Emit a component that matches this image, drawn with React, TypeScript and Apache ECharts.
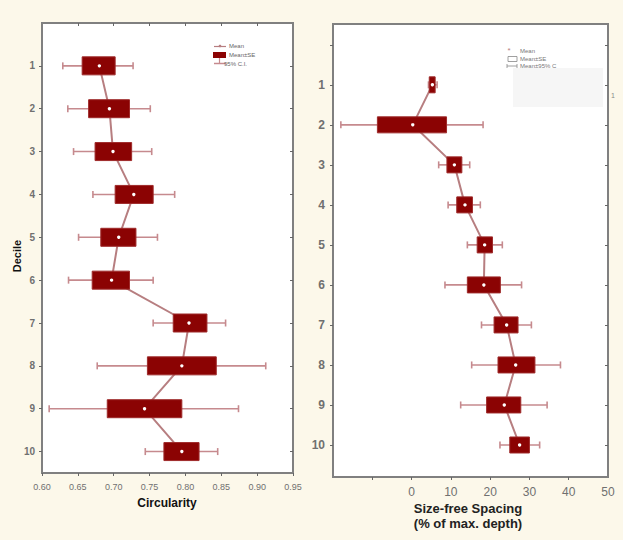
import React, { useEffect, useRef } from 'react';
import * as echarts from 'echarts';

// ---------- data ----------
const deciles = [1, 2, 3, 4, 5, 6, 7, 8, 9, 10];

// Circularity (left panel)
const circMean = [0.680, 0.694, 0.699, 0.728, 0.707, 0.697, 0.805, 0.795, 0.743, 0.795];
const circSeLow = [0.656, 0.665, 0.674, 0.702, 0.682, 0.670, 0.783, 0.747, 0.691, 0.770];
const circSeHigh = [0.702, 0.722, 0.725, 0.755, 0.731, 0.722, 0.830, 0.843, 0.795, 0.819];
const circCiLow = [0.629, 0.636, 0.644, 0.671, 0.651, 0.637, 0.755, 0.677, 0.610, 0.744];
const circCiHigh = [0.727, 0.751, 0.753, 0.785, 0.761, 0.755, 0.856, 0.912, 0.874, 0.845];
const circTicks = [0.60, 0.65, 0.70, 0.75, 0.80, 0.85, 0.90, 0.95];

// Size-free spacing (right panel)
const spMean = [5.3, 0.3, 10.9, 13.6, 18.6, 18.4, 24.2, 26.5, 23.6, 27.5];
const spSeLow = [4.5, -8.7, 9.0, 11.5, 16.7, 14.2, 21.0, 22.0, 19.1, 25.0];
const spSeHigh = [6.0, 8.9, 12.8, 15.5, 20.6, 22.6, 27.1, 31.4, 27.8, 30.0];
const spCiLow = [4.3, -18.0, 6.9, 9.3, 14.2, 8.5, 17.8, 15.3, 12.5, 22.5];
const spCiHigh = [6.5, 18.2, 14.8, 17.5, 23.1, 28.0, 30.5, 37.9, 34.5, 32.6];
const spLabelTicks = [0, 10, 20, 30, 40, 50];
const spMinorTicks = [-10, 0, 10, 20, 30, 40];
const spYTicks = [0, 1, 2, 3, 4, 5, 6, 7, 8, 9, 10];

// ---------- styles ----------
const BOX_FILL = '#8B0303';
const BOX_STROKE = '#9E2A2A';
const WHISKER = '#C68A8E';
const MEANLINE = '#B77E80';
const FRAME = '#808080';
const LABEL = '#707070';
const FONT = 'Liberation Sans, Arial, sans-serif';

function buildRows(mean: number[], seL: number[], seH: number[], ciL: number[], ciH: number[]) {
  return deciles.map((d, i) => [d, mean[i], seL[i], seH[i], ciL[i], ciH[i]]);
}

function makeRender(boxH: number) {
  return (params: any, api: any) => {
    const cat = api.value(0);
    const pM = api.coord([api.value(1), cat]);
    const pSL = api.coord([api.value(2), cat]);
    const pSH = api.coord([api.value(3), cat]);
    const pCL = api.coord([api.value(4), cat]);
    const pCH = api.coord([api.value(5), cat]);
    const y = pM[1];
    const cap = 3.5;
    return {
      type: 'group',
      children: [
        { type: 'line', shape: { x1: pCL[0], y1: y, x2: pCH[0], y2: y }, style: { stroke: WHISKER, lineWidth: 1.6 } },
        { type: 'line', shape: { x1: pCL[0], y1: y - cap, x2: pCL[0], y2: y + cap }, style: { stroke: WHISKER, lineWidth: 1.6 } },
        { type: 'line', shape: { x1: pCH[0], y1: y - cap, x2: pCH[0], y2: y + cap }, style: { stroke: WHISKER, lineWidth: 1.6 } },
        {
          type: 'rect',
          shape: { x: pSL[0], y: y - boxH / 2, width: pSH[0] - pSL[0], height: boxH },
          style: { fill: BOX_FILL, stroke: BOX_STROKE, lineWidth: 1 },
        },
        { type: 'circle', shape: { cx: pM[0], cy: y, r: 1.7 }, style: { fill: '#ffffff' } },
      ],
    };
  };
}

export default function App() {
  const ref = useRef<HTMLDivElement>(null);

  useEffect(() => {
    if (!ref.current) return;
    const chart = echarts.init(ref.current, null, { renderer: 'svg' });

    const leftGrid = { left: 42, top: 23, width: 251, height: 450 };
    const rightGrid = { left: 333, top: 24, width: 275, height: 453 };

    const noLine = { show: false, onZero: false };
    const tickStyle = { color: '#666' };

    const option: any = {
      animation: false,
      backgroundColor: '#FCF8EA',
      grid: [
        { ...leftGrid, show: true, backgroundColor: '#ffffff', borderColor: FRAME, borderWidth: 2 },
        { ...rightGrid, show: true, backgroundColor: '#ffffff', borderColor: FRAME, borderWidth: 2 },
      ],
      xAxis: [
        {
          type: 'value', gridIndex: 0, position: 'bottom', min: 0.6, max: 0.95,
          axisLine: noLine,
          splitLine: { show: false },
          axisTick: { show: true, length: 3, lineStyle: tickStyle, customValues: circTicks },
          axisLabel: {
            customValues: circTicks, color: LABEL, fontSize: 9, fontFamily: FONT, margin: 9,
            formatter: (v: number) => v.toFixed(2),
          },
        },
        {
          type: 'value', gridIndex: 0, position: 'top', min: 0.6, max: 0.95,
          axisLine: noLine, axisLabel: { show: false }, splitLine: { show: false },
          axisTick: { show: true, inside: true, length: 3, lineStyle: tickStyle, customValues: circTicks.slice(1, -1) },
        },
        {
          type: 'value', gridIndex: 1, position: 'bottom', min: -20, max: 50,
          axisLine: noLine,
          splitLine: { show: false },
          axisTick: { show: true, length: 3, lineStyle: tickStyle, customValues: spMinorTicks },
          axisLabel: {
            customValues: spLabelTicks, color: LABEL, fontSize: 12, fontFamily: FONT, margin: 9,
          },
        },
      ],
      yAxis: [
        {
          type: 'value', gridIndex: 0, position: 'left', min: 0, max: 10.5, inverse: true,
          axisLine: noLine,
          splitLine: { show: false },
          axisTick: { show: true, length: 3, lineStyle: tickStyle, customValues: deciles },
          axisLabel: { customValues: deciles, color: LABEL, fontSize: 10, fontWeight: 'bold', fontFamily: FONT, margin: 7 },
        },
        {
          type: 'value', gridIndex: 0, position: 'right', min: 0, max: 10.5, inverse: true,
          axisLine: noLine, axisLabel: { show: false }, splitLine: { show: false },
          axisTick: { show: true, inside: true, length: 3, lineStyle: tickStyle, customValues: deciles },
        },
        {
          type: 'value', gridIndex: 1, position: 'left', min: -0.52, max: 10.8, inverse: true,
          axisLine: noLine,
          splitLine: { show: false },
          axisTick: { show: true, length: 3, lineStyle: tickStyle, customValues: spYTicks },
          axisLabel: { customValues: deciles, color: LABEL, fontSize: 12, fontWeight: 'bold', fontFamily: FONT, margin: 8 },
        },
        {
          type: 'value', gridIndex: 1, position: 'right', min: -0.52, max: 10.8, inverse: true,
          axisLine: noLine, axisLabel: { show: false }, splitLine: { show: false },
          axisTick: { show: true, inside: true, length: 3, lineStyle: tickStyle, customValues: spYTicks },
        },
      ],
      series: [
        {
          type: 'line', xAxisIndex: 0, yAxisIndex: 0, z: 2,
          data: deciles.map((d, i) => [circMean[i], d]),
          symbol: 'none', lineStyle: { color: MEANLINE, width: 2 },
        },
        {
          type: 'custom', xAxisIndex: 0, yAxisIndex: 0, z: 3,
          dimensions: ['decile', 'mean', 'seLow', 'seHigh', 'ciLow', 'ciHigh'],
          encode: { x: [1, 2, 3, 4, 5], y: 0 },
          data: buildRows(circMean, circSeLow, circSeHigh, circCiLow, circCiHigh),
          renderItem: makeRender(18),
        },
        {
          type: 'line', xAxisIndex: 2, yAxisIndex: 2, z: 2,
          data: deciles.map((d, i) => [spMean[i], d]),
          symbol: 'none', lineStyle: { color: MEANLINE, width: 2 },
        },
        {
          type: 'custom', xAxisIndex: 2, yAxisIndex: 2, z: 3,
          dimensions: ['decile', 'mean', 'seLow', 'seHigh', 'ciLow', 'ciHigh'],
          encode: { x: [1, 2, 3, 4, 5], y: 0 },
          data: buildRows(spMean, spSeLow, spSeHigh, spCiLow, spCiHigh),
          renderItem: makeRender(16),
        },
      ],
      graphic: [
        // axis titles
        {
          type: 'text', x: 17, y: 256, rotation: Math.PI / 2,
          style: { text: 'Decile', fill: '#111', font: `bold 11px ${FONT}`, align: 'center', verticalAlign: 'middle' },
        },
        {
          type: 'text', x: 167, y: 503,
          style: { text: 'Circularity', fill: '#111', font: `bold 12px ${FONT}`, align: 'center', verticalAlign: 'middle' },
        },
        {
          type: 'text', x: 468, y: 508,
          style: { text: 'Size-free Spacing', fill: '#222', font: `bold 13px ${FONT}`, align: 'center', verticalAlign: 'middle' },
        },
        {
          type: 'text', x: 468, y: 523,
          style: { text: '(% of max. depth)', fill: '#222', font: `bold 13px ${FONT}`, align: 'center', verticalAlign: 'middle' },
        },
        // left legend
        { type: 'line', shape: { x1: 214, y1: 46.5, x2: 226, y2: 46.5 }, style: { stroke: MEANLINE, lineWidth: 1.2 } },
        { type: 'circle', shape: { cx: 220, cy: 46, r: 1.3 }, style: { fill: MEANLINE } },
        { type: 'rect', shape: { x: 213, y: 52, width: 13, height: 6 }, style: { fill: BOX_FILL } },
        { type: 'line', shape: { x1: 219.5, y1: 58, x2: 219.5, y2: 63.5 }, style: { stroke: WHISKER, lineWidth: 1.2 } },
        { type: 'line', shape: { x1: 214, y1: 63.5, x2: 226, y2: 63.5 }, style: { stroke: WHISKER, lineWidth: 1.5 } },
        { type: 'text', x: 229, y: 46, style: { text: 'Mean', fill: '#666', font: `6px ${FONT}`, verticalAlign: 'middle' } },
        { type: 'text', x: 229, y: 55, style: { text: 'Mean±SE', fill: '#666', font: `6px ${FONT}`, verticalAlign: 'middle' } },
        { type: 'text', x: 224, y: 63.5, style: { text: '95% C.I.', fill: '#666', font: `6px ${FONT}`, verticalAlign: 'middle' } },
        // right legend
        { type: 'rect', shape: { x: 513, y: 68, width: 90, height: 39 }, style: { fill: '#F6F6F6' } },
        { type: 'text', x: 509, y: 50, style: { text: '*', fill: MEANLINE, font: `8px ${FONT}`, align: 'center', verticalAlign: 'middle' } },
        { type: 'rect', shape: { x: 508, y: 56.5, width: 9, height: 5 }, style: { fill: 'none', stroke: '#888', lineWidth: 0.8 } },
        { type: 'line', shape: { x1: 507, y1: 66, x2: 517, y2: 66 }, style: { stroke: '#888', lineWidth: 0.8 } },
        { type: 'line', shape: { x1: 507, y1: 64, x2: 507, y2: 68 }, style: { stroke: '#888', lineWidth: 0.8 } },
        { type: 'line', shape: { x1: 517, y1: 64, x2: 517, y2: 68 }, style: { stroke: '#888', lineWidth: 0.8 } },
        { type: 'text', x: 520, y: 51, style: { text: 'Mean', fill: '#777', font: `6px ${FONT}`, verticalAlign: 'middle' } },
        { type: 'text', x: 520, y: 59, style: { text: 'Mean±SE', fill: '#777', font: `6px ${FONT}`, verticalAlign: 'middle' } },
        { type: 'text', x: 520, y: 66, style: { text: 'Mean±95% C', fill: '#777', font: `6px ${FONT}`, verticalAlign: 'middle' } },
        { type: 'text', x: 613, y: 95, style: { text: '1', fill: '#888', font: `7px ${FONT}`, align: 'center', verticalAlign: 'middle' } },
        // white strip on the right edge
        { type: 'rect', shape: { x: 623, y: 0, width: 5, height: 540 }, style: { fill: '#ffffff' } },
      ],
    };

    chart.setOption(option);
    return () => chart.dispose();
  }, []);

  return (
    <div
      ref={ref}
      style={{ position: 'fixed', left: 0, top: 0, width: 628, height: 540 }}
    />
  );
}
